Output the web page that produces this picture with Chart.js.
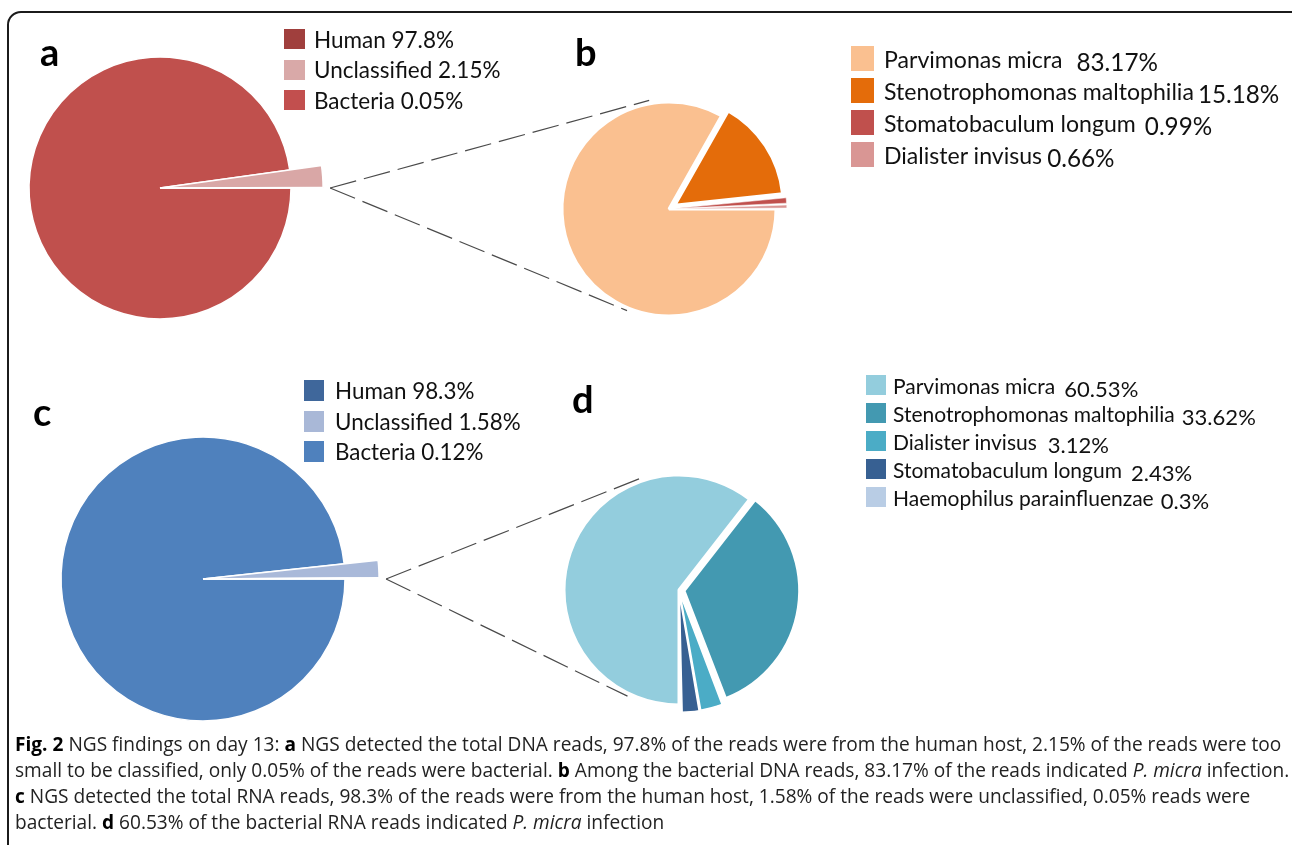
<!DOCTYPE html>
<html>
<head>
<meta charset="utf-8">
<script src="https://cdn.jsdelivr.net/npm/chart.js@4.4.1/dist/chart.umd.min.js"></script>
<style>
  html, body { margin: 0; padding: 0; background: #fff; }
  #stage { position: relative; width: 1292px; height: 845px; overflow: hidden; font-family: Lato, "Open Sans", sans-serif; color: #111; }
  #frame { position: absolute; left: 7px; top: 11px; width: 1320px; height: 900px; border: 2px solid #1b1b1b; border-radius: 14px; }
  .tag { position: absolute; font: bold 38px Lato, sans-serif; line-height: 38px; color: #000; }
  .legend { position: absolute; color: #111; }
  .legend .row { position: relative; display: flex; align-items: center; white-space: nowrap; }
  .legend .sw { flex: none; }
  .legend .pct { position: relative; }
  #links { position: absolute; left: 0; top: 0; }
  #caption { position: absolute; left: 15px; top: 731px; font-family: "Open Sans", sans-serif; font-size: 19.1px; line-height: 26px; color: #222; white-space: nowrap; }
  #caption b { color: #000; }
</style>
</head>
<body>
<div id="stage">
  <div id="frame"></div>
  <canvas id="links" width="1292" height="845"></canvas>
  <div class="tag" style="left:40px;top:32px">a</div>
  <div class="tag" style="left:575px;top:32px">b</div>
  <div class="tag" style="left:33px;top:392px">c</div>
  <div class="tag" style="left:572px;top:379px">d</div>
  <div id="caption">
    <b>Fig. 2</b> NGS findings on day 13: <b>a</b> NGS detected the total DNA reads, 97.8% of the reads were from the human host, 2.15% of the reads were too<br>
    small to be classified, only 0.05% of the reads were bacterial. <b>b</b> Among the bacterial DNA reads, 83.17% of the reads indicated <i>P. micra</i> infection.<br>
    <b>c</b> NGS detected the total RNA reads, 98.3% of the reads were from the human host, 1.58% of the reads were unclassified, 0.05% reads were<br>
    bacterial. <b>d</b> 60.53% of the bacterial RNA reads indicated <i>P. micra</i> infection
  </div>
</div>
<script>
// DNA reads (panel a) and the bacterial part of them (panel b)
const dnaLabels = ['Human', 'Unclassified', 'Bacteria'];
const dnaValues = [97.8, 2.15, 0.05];
const dnaBacteriaLabels = ['Parvimonas micra', 'Stenotrophomonas maltophilia', 'Stomatobaculum longum', 'Dialister invisus'];
const dnaBacteriaValues = [83.17, 15.18, 0.99, 0.66];

// RNA reads (panel c) and the bacterial part of them (panel d)
const rnaLabels = ['Human', 'Unclassified', 'Bacteria'];
const rnaValues = [98.3, 1.58, 0.12];
const rnaBacteriaLabels = ['Parvimonas micra', 'Stenotrophomonas maltophilia', 'Dialister invisus', 'Stomatobaculum longum', 'Haemophilus parainfluenzae'];
const rnaBacteriaValues = [60.53, 33.62, 3.12, 2.43, 0.3];

// Lets single slices reach out past the pie's radius (the pulled-out "Unclassified" wedge)
const stretchSlices = {
    id: 'stretchSlices',
    afterDatasetUpdate(chart, args, opts) {
        const factors = opts.factors || [];
        args.meta.data.forEach((arc, i) => {
            if (factors[i]) arc.outerRadius *= factors[i];
        });
    }
};

const panels = {
    a: {
        labels: dnaLabels, values: dnaValues,
        cx: 160, cy: 188, radius: 131, rotation: 90, border: [1.5, 1.5, 1.5],
        colors: ['#C0504D', '#D9A7A6', '#C0504D'],
        swatches: ['#A03F3D', '#D9A9A8', '#C24F4E'],
        offsets: [0, 0, 0], stretch: [1, 1.245, 1.245],
        legend: { left: 284, top: 29, pitch: 30.5, sw: [21, 20], gap: 9, font: 22.5, split: false }
    },
    b: {
        labels: dnaBacteriaLabels, values: dnaBacteriaValues,
        cx: 669, cy: 209, radius: 107, rotation: 90, border: [3, 3, 0.5, 0.5],
        colors: ['#FAC090', '#E46C0A', '#C0504D', '#D99694'],
        swatches: ['#FAC090', '#E46C0A', '#C0504D', '#D99694'],
        offsets: [0, 28, 22, 22], stretch: [1, 1, 1, 1],
        legend: { left: 851, top: 46, pitch: 32, sw: [23, 25], gap: 10, font: 23.1, split: true, pctGap: [14, 4, 9, 5] }
    },
    c: {
        labels: rnaLabels, values: rnaValues,
        cx: 203, cy: 579, radius: 142, rotation: 90, border: [1.5, 1.5, 1.5],
        colors: ['#4F81BD', '#A9B9D9', '#4F81BD'],
        swatches: ['#3F679B', '#A9B8D7', '#4F81BD'],
        offsets: [0, 0, 0], stretch: [1, 1.24, 1.24],
        legend: { left: 304, top: 380, pitch: 30.5, sw: [20, 21], gap: 11, font: 22.4, split: false }
    },
    d: {
        labels: rnaBacteriaLabels, values: rnaBacteriaValues,
        cx: 679, cy: 590, radius: 115, rotation: 180, border: [3, 3, 1.5, 1.5, 1.5],
        colors: ['#93CDDD', '#4399B1', '#4BACC6', '#376092', '#B9CDE5'],
        swatches: ['#93CDDD', '#4399B1', '#4BACC6', '#376092', '#B9CDE5'],
        offsets: [0, 20, 16, 16, 16], stretch: [1, 1, 1, 1, 1],
        legend: { left: 866, top: 375, pitch: 28, sw: [20, 20], gap: 7, font: 21, split: true, pctGap: [9, 7, 11, 9, 7] }
    }
};

const stage = document.getElementById('stage');

function makePie(p) {
    const reach = p.radius * Math.max(...p.stretch);
    const size = Math.ceil(reach + 20) * 2;
    const left = p.cx - size / 2;
    const top = p.cy - size / 2;
    const canvas = document.createElement('canvas');
    canvas.width = size;
    canvas.height = size;
    canvas.style.cssText = `position:absolute;left:${left}px;top:${top}px;width:${size}px;height:${size}px`;
    stage.insertBefore(canvas, document.getElementById('links'));

    const chart = new Chart(canvas.getContext('2d'), {
        type: 'pie',
        data: {
            labels: p.labels,
            datasets: [{
                data: p.values,
                backgroundColor: p.colors,
                borderColor: '#ffffff',
                borderWidth: p.border,
                offset: p.offsets
            }]
        },
        options: {
            responsive: false,
            animation: false,
            events: [],
            rotation: p.rotation,
            radius: p.radius,
            layout: { padding: 0 },
            plugins: {
                legend: { display: false },
                tooltip: { enabled: false },
                stretchSlices: { factors: p.stretch }
            }
        },
        plugins: [stretchSlices]
    });
    chart.$box = { left, top };
    return chart;
}

function makeLegend(p) {
    const L = p.legend;
    const box = document.createElement('div');
    box.className = 'legend';
    box.style.cssText = `left:${L.left}px;top:${L.top - (L.pitch - L.sw[1]) / 2}px;font-size:${L.font}px`;
    p.labels.forEach((label, i) => {
        const row = document.createElement('div');
        row.className = 'row';
        row.style.height = L.pitch + 'px';
        const sw = document.createElement('span');
        sw.className = 'sw';
        sw.style.cssText = `width:${L.sw[0]}px;height:${L.sw[1]}px;background:${p.swatches[i]};margin-right:${L.gap}px`;
        const txt = document.createElement('span');
        if (L.split) {
            txt.textContent = label;
            const pct = document.createElement('span');
            pct.className = 'pct';
            pct.style.cssText = `margin-left:${L.pctGap[i]}px;top:3px;font-size:1.05em`;
            pct.textContent = p.values[i] + '%';
            txt.appendChild(pct);
        } else {
            txt.textContent = `${label} ${p.values[i]}%`;
        }
        row.appendChild(sw);
        row.appendChild(txt);
        box.appendChild(row);
    });
    stage.appendChild(box);
}

// Dashed tangent lines from the tip of the pulled-out wedge to the detail pie
function drawLinks(ctx, fromChart, toChart) {
    const meta = fromChart.getDatasetMeta(0);
    const tip = meta.data[meta.data.length - 1];
    const reach = tip.outerRadius + 7;
    const P = {
        x: fromChart.$box.left + tip.x + Math.cos(tip.endAngle) * reach,
        y: fromChart.$box.top + tip.y + Math.sin(tip.endAngle) * reach
    };
    const big = toChart.getDatasetMeta(0).data[0];
    const C = { x: toChart.$box.left + big.x, y: toChart.$box.top + big.y };
    const R = big.outerRadius + 3;
    const dist = Math.hypot(P.x - C.x, P.y - C.y);
    const phi = Math.atan2(P.y - C.y, P.x - C.x);
    const alpha = Math.acos(R / dist);
    ctx.save();
    ctx.strokeStyle = '#4a4a4a';
    ctx.lineWidth = 1.2;
    ctx.setLineDash([27, 8]);
    [phi + alpha, phi - alpha].forEach((t, k) => {
        const end = { x: C.x + Math.cos(t) * R, y: C.y + Math.sin(t) * R };
        // the lower line runs on a little past its tangent point
        const run = k === 0 ? 1.03 : 1;
        ctx.beginPath();
        ctx.moveTo(P.x, P.y);
        ctx.lineTo(P.x + (end.x - P.x) * run, P.y + (end.y - P.y) * run);
        ctx.stroke();
    });
    ctx.restore();
}

const charts = {};
Object.keys(panels).forEach(key => {
    charts[key] = makePie(panels[key]);
    makeLegend(panels[key]);
});

const linkCtx = document.getElementById('links').getContext('2d');
drawLinks(linkCtx, charts.a, charts.b);
drawLinks(linkCtx, charts.c, charts.d);
</script>
</body>
</html>
